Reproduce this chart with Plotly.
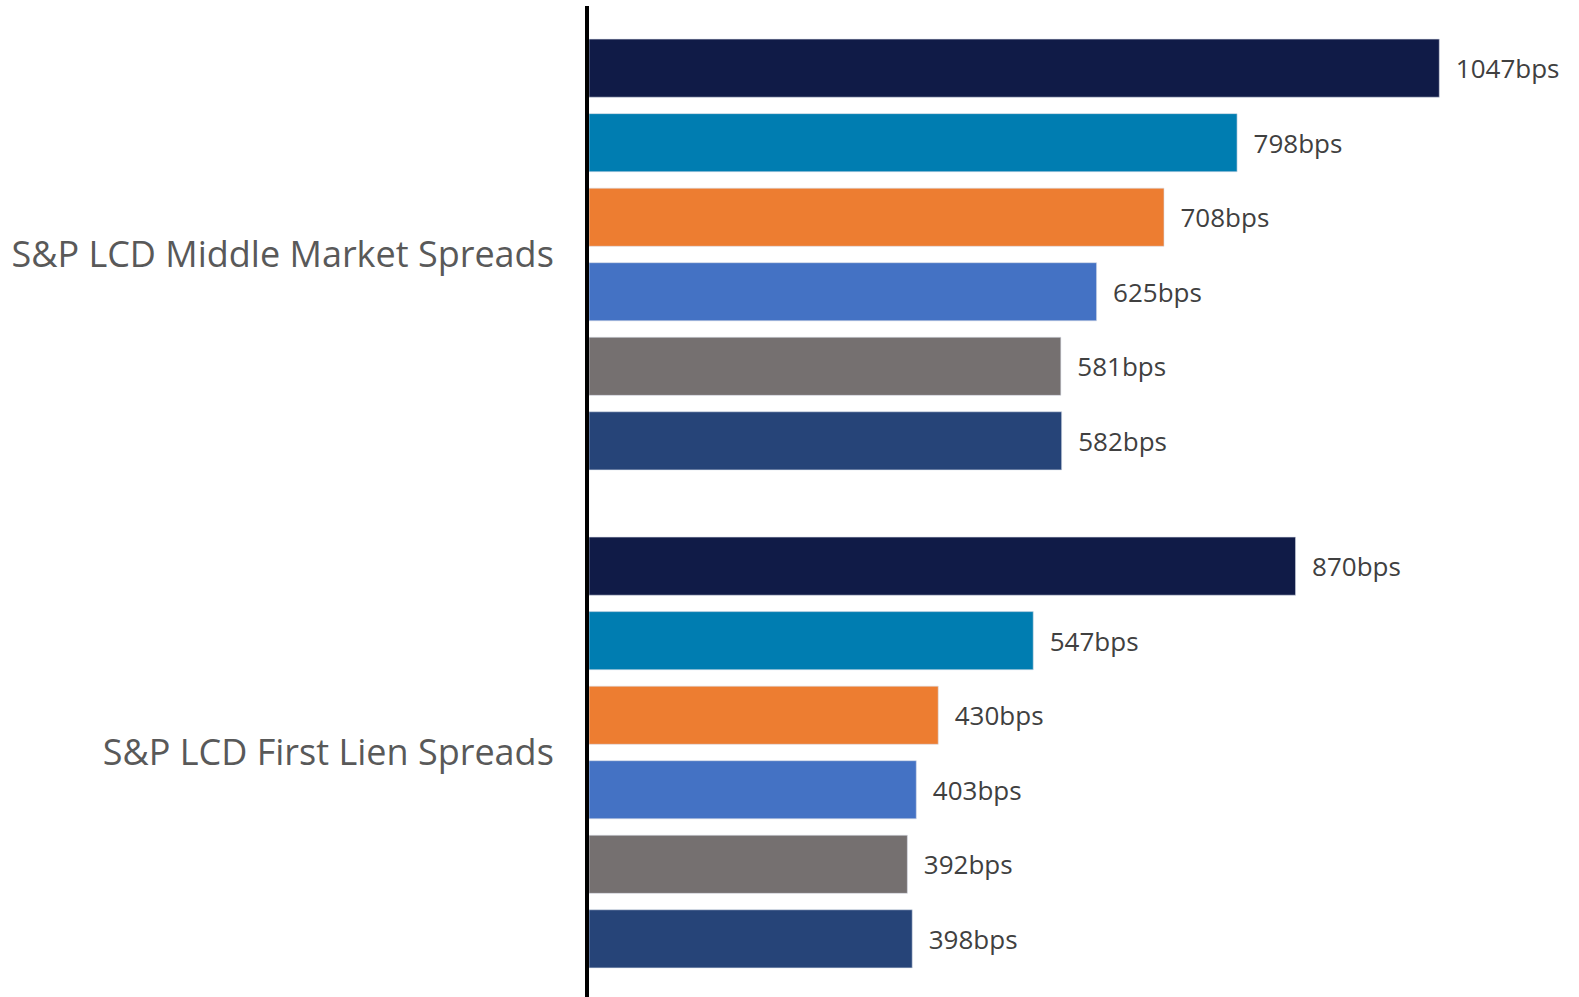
import plotly.graph_objects as go

categories = ["S&P LCD Middle Market Spreads", "S&P LCD First Lien Spreads"]
series_names = ["Series 1", "Series 2", "Series 3", "Series 4", "Series 5", "Series 6"]
series_values = [
    [1047, 870],
    [798, 547],
    [708, 430],
    [625, 403],
    [581, 392],
    [582, 398],
]
colors = ["#101B47", "#007DB1", "#ED7D31", "#4472C4", "#757070", "#264478"]

fig = go.Figure()
for name, vals, col in zip(series_names, series_values, colors):
    fig.add_trace(go.Bar(
        y=categories, x=vals, orientation="h", name=name,
        marker=dict(color=col, line=dict(color="#D9DEE8", width=0.6)),
        text=[f"\u00a0\u00a0{v}bps" for v in vals],
        textposition="outside",
        textfont=dict(family="Open Sans", size=26, color="#404040"),
        cliponaxis=False,
    ))

fig.update_layout(
    width=1579, height=997,
    margin=dict(l=589, r=0, t=6, b=0),
    plot_bgcolor="white", paper_bgcolor="white",
    barmode="group", bargap=0.102, bargroupgap=0.22,
    showlegend=False,
    xaxis=dict(range=[0, 1219], visible=False, showgrid=False, zeroline=False),
    yaxis=dict(
        type="category", categoryorder="array", categoryarray=categories,
        range=[1.491, -0.499],
        showline=True, linecolor="black", linewidth=4,
        showgrid=False, zeroline=False, ticks="",
        ticklabelstandoff=24,
        tickfont=dict(family="Open Sans", size=36, color="#595959"),
    ),
)

fig.write_html("out.html")
